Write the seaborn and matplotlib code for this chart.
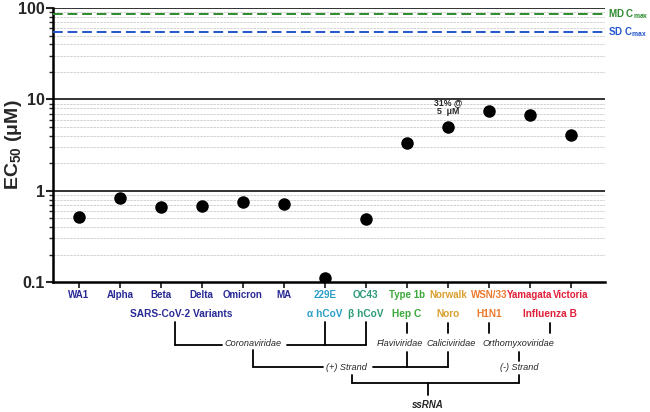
import numpy as np
import pandas as pd
import seaborn as sns
import matplotlib.pyplot as plt
from matplotlib.transforms import blended_transform_factory
from matplotlib.ticker import LogLocator, FixedLocator, NullFormatter

viruses = ['WA1', 'Alpha', 'Beta', 'Delta', 'Omicron', 'MA', '229E', 'OC43',
           'Type 1b', 'Norwalk', 'WSN/33', 'Yamagata', 'Victoria']
ec50 = [0.52, 0.84, 0.66, 0.68, 0.75, 0.71, 0.11, 0.49, 3.3, 5.0, 7.5, 6.7, 4.1]
label_colors = ['#2a2a96'] * 6 + ['#2b9ec8', '#2a9a78', '#3aa83a', '#d9a030',
                                  '#ec7a2e', '#e0203a', '#e0203a']

md_cmax = 86
sd_cmax = 54

df = pd.DataFrame({'virus': viruses, 'ec50': ec50})

sns.set_style("white")
plt.rcParams["font.family"] = ["Liberation Sans", "DejaVu Sans"]
plt.rcParams["mathtext.fontset"] = "custom"
plt.rcParams["mathtext.bf"] = "Liberation Sans:bold"
plt.rcParams["mathtext.rm"] = "Liberation Sans"
plt.rcParams["mathtext.default"] = "bf"

fig = plt.figure(figsize=(6.5, 4.12), dpi=100)
ax = fig.add_axes([0.0815, 0.3155, 0.849, 0.665])

ax.set_yscale('log')
sns.stripplot(data=df, x='virus', y='ec50', color='black', jitter=False,
              size=9, ax=ax, zorder=5)
ax.set_ylim(0.1, 100)
ax.set_xlim(-0.63, 12.83)

# grid lines
for v in [1, 10, 100]:
    ax.axhline(v, color='#222222', lw=1.3, zorder=2)
for dec in [0.1, 1, 10]:
    for m in range(2, 10):
        ax.axhline(dec * m, color='#cccccc', lw=0.6, ls=(0, (3, 1)), zorder=1)

ax.axhline(md_cmax, color='#2e8b2e', lw=1.4, ls=(0, (5, 2.5)), zorder=3)
ax.axhline(sd_cmax, color='#2255cc', lw=1.4, ls=(0, (5, 2.5)), zorder=3)
ax.text(1.005, md_cmax, 'MD C$_{max}$', transform=ax.get_yaxis_transform(),
        color='#2e8b2e', fontsize=7, fontweight='bold', va='center', ha='left')
ax.text(1.005, sd_cmax, 'SD C$_{max}$', transform=ax.get_yaxis_transform(),
        color='#2255cc', fontsize=7, fontweight='bold', va='center', ha='left')

ax.text(9, 6.5, '31% @\n5  μM', ha='center', va='bottom', fontsize=6.3,
        fontweight='bold', linespacing=1.1)

# axes styling
for s in ['top', 'right']:
    ax.spines[s].set_visible(False)
for s in ['left', 'bottom']:
    ax.spines[s].set_linewidth(1.8)
    ax.spines[s].set_color('black')

ax.yaxis.set_major_locator(FixedLocator([0.1, 1, 10, 100]))
ax.set_yticklabels(['0.1', '1', '10', '100'], fontsize=11.5, fontweight='bold')
ax.yaxis.set_minor_locator(LogLocator(base=10, subs=np.arange(2, 10)))
ax.yaxis.set_minor_formatter(NullFormatter())
ax.tick_params(axis='y', which='major', length=5, width=1.5, left=True, pad=1)
ax.tick_params(axis='y', which='minor', length=3, width=1.0, left=True)
ax.tick_params(axis='x', length=4, width=1.3, bottom=True, pad=2)

ax.set_xticks(range(len(viruses)))
ax.set_xticklabels(viruses, fontsize=7, fontweight='bold')
for lab, c in zip(ax.get_xticklabels(), label_colors):
    lab.set_color(c)

ax.set_xlabel('')
ax.set_ylabel('EC$_{50}$ (μM)', fontsize=14, fontweight='bold')
ax.yaxis.set_label_coords(-0.052, 0.5)

# taxonomy tree below the axis
tr = blended_transform_factory(ax.transData, fig.transFigure)


def fy(px):
    return 1 - px / 412


def seg(x0, y0, x1, y1):
    ax.plot([x0, x1], [fy(y0), fy(y1)], color='black', lw=1.3,
            transform=tr, clip_on=False)


def px2x(px):
    return (px - 79) / 41


groups = [(2.5, 'SARS-CoV-2 Variants', '#2a2a96'), (6, 'α hCoV', '#2b9ec8'),
          (7, 'β hCoV', '#2a9a78'), (8, 'Hep C', '#3aa83a'),
          (9, 'Noro', '#d9a030'), (10, 'H1N1', '#ec7a2e'),
          (11.5, 'Influenza B', '#e0203a')]
for x, t, c in groups:
    ax.text(x, fy(314), t, transform=tr, ha='center', va='center',
            color=c, fontsize=7.3, fontweight='bold')

it = dict(transform=tr, ha='center', va='center', fontsize=6.6,
          style='italic')

cor = px2x(253)
# Coronaviridae
seg(px2x(175), 322, px2x(175), 345)
seg(6, 322, 6, 345)
seg(7, 322, 7, 345)
seg(px2x(175), 345, px2x(222), 345)
seg(px2x(287), 345, 7, 345)
ax.text(cor, fy(344), 'Coronaviridae', **it)

# Flaviviridae / Caliciviridae / Orthomyxoviridae
for x in [8, 9, 10, 11.5]:
    seg(x, 323, x, 333)
ax.text(px2x(400), fy(343), 'Flaviviridae', **it)
ax.text(px2x(451), fy(343), 'Caliciviridae', **it)
orth = px2x(519)
ax.text(orth, fy(343), 'Orthomyxoviridae', **it)

# (+) strand
seg(cor, 350, cor, 367)
seg(cor, 367, px2x(323), 367)
seg(8, 352, 8, 367)
seg(9, 352, 9, 367)
seg(px2x(373), 367, 9, 367)
ax.text(px2x(347), fy(367), '(+) Strand', **it)

# (-) strand
seg(orth, 352, orth, 361)
ax.text(orth, fy(368), '(-) Strand', **it)

# ssRNA
seg(px2x(352), 375, px2x(352), 383)
seg(orth, 375, orth, 383)
seg(px2x(352), 383, orth, 383)
mid = px2x(428)
seg(mid, 383, mid, 395)
ax.text(mid, fy(405), 'ssRNA', transform=tr, ha='center', va='center',
        fontsize=7, style='italic', fontweight='bold')

fig.savefig('out.png', dpi=100)
